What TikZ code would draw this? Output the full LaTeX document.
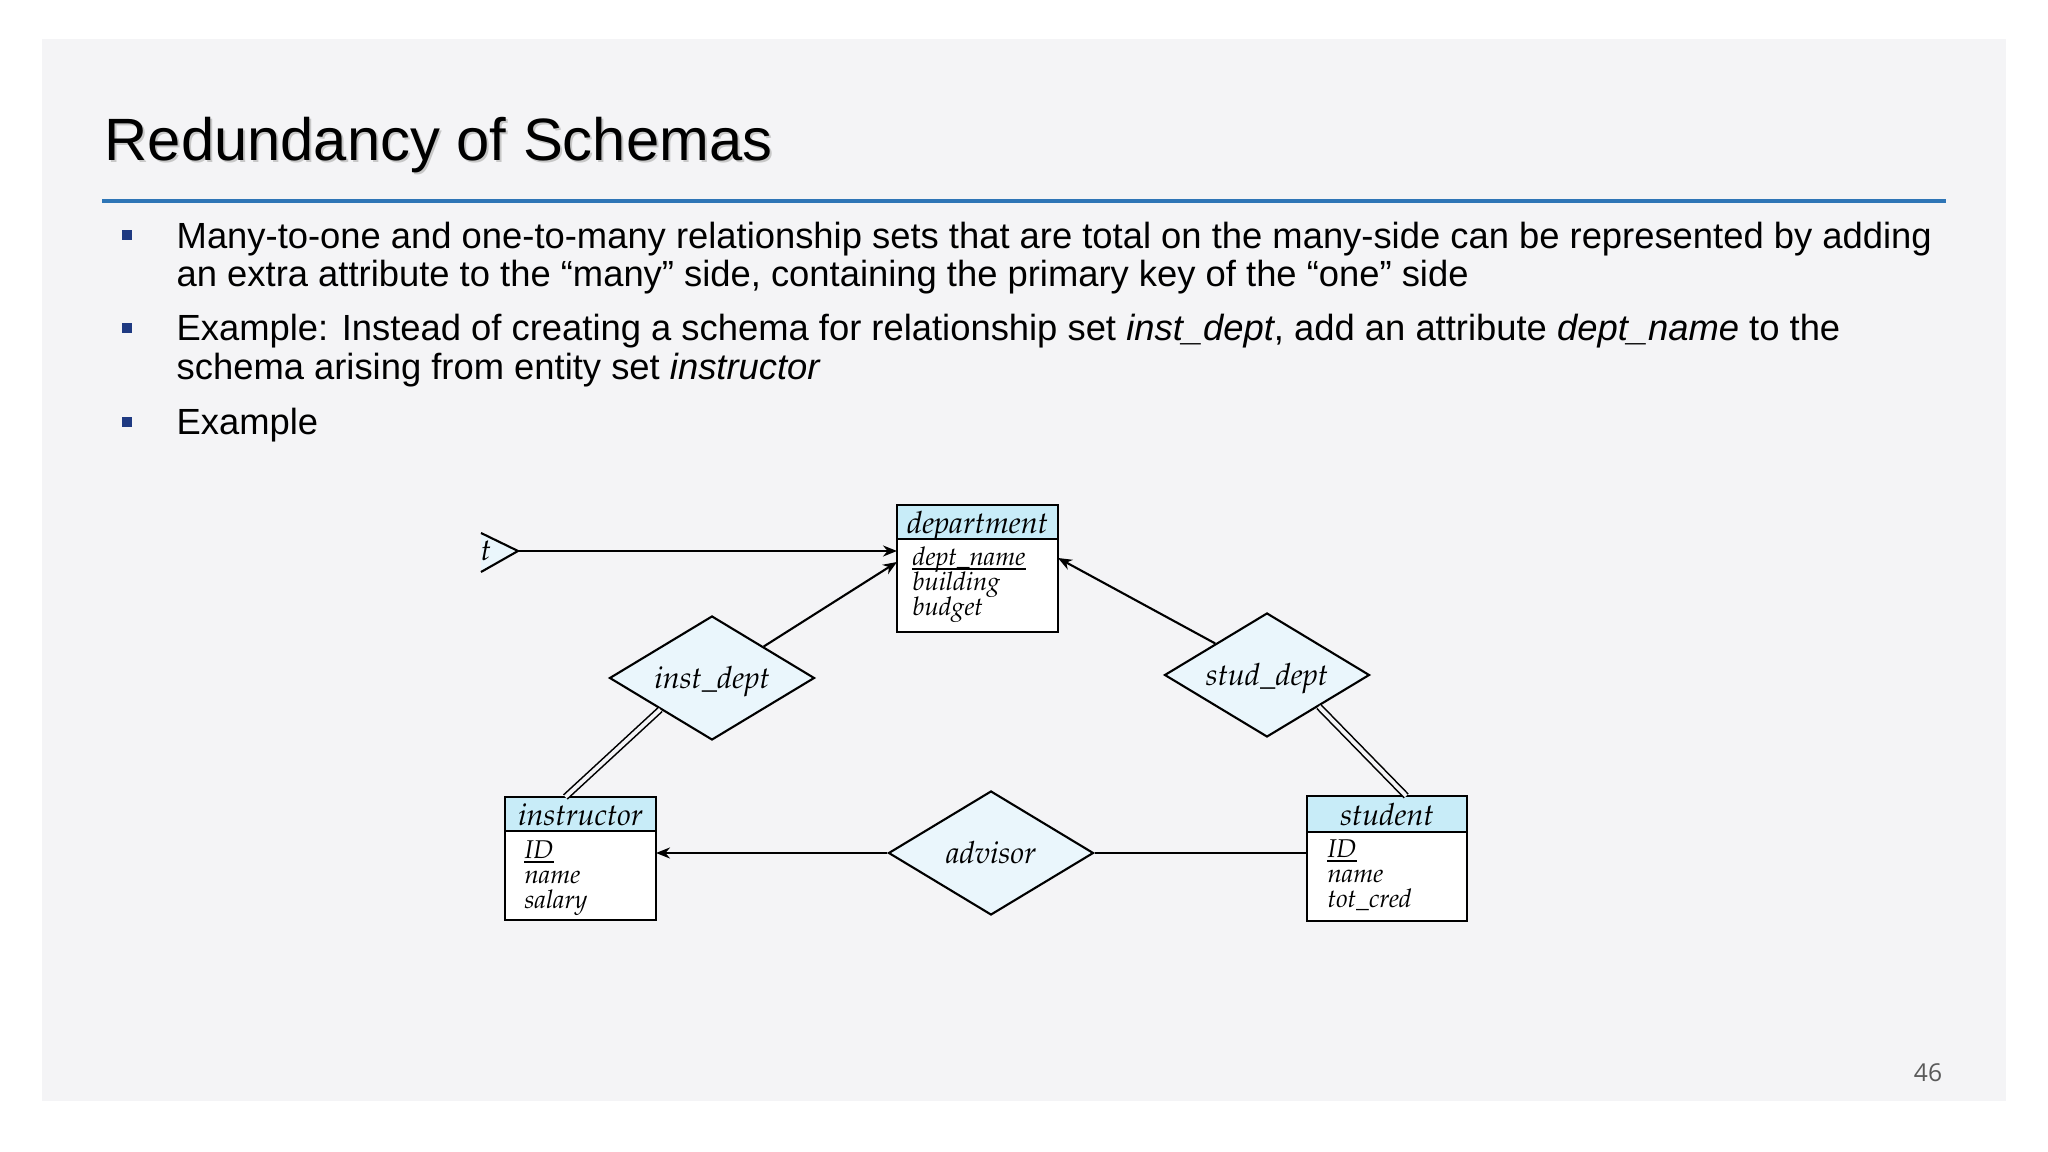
\documentclass[tikz,border=0pt]{standalone}
\usepackage[T1]{fontenc}
\usepackage{fontspec}
\setmainfont{Liberation Sans}
\newfontfamily\numfont{Open Sans}
\usepackage{tikz}
\usetikzlibrary{shapes.geometric,positioning,calc,arrows.meta}

\definecolor{slidebg}{HTML}{F4F4F6}
\definecolor{rulebl}{HTML}{2E75B6}
\definecolor{bulletbl}{HTML}{1F3A82}
\definecolor{entfill}{HTML}{C8ECF8}
\definecolor{relfill}{HTML}{EAF6FC}
\definecolor{pgnum}{HTML}{595959}

\newcommand{\erfont}{\fontencoding{T1}\fontfamily{ppl}\fontshape{it}\selectfont}

\tikzset{
  enthead/.style={shape=rectangle, draw, line width=0.7pt, outer sep=0pt, fill=entfill, inner sep=0pt, minimum height=3.4mm, text height=2.7mm, text depth=0.3mm, font=\erfont\fontsize{8.7}{9}\selectfont},
  entbody/.style={shape=rectangle, draw, line width=0.7pt, outer sep=0pt, fill=white, inner sep=0pt, minimum height=8.9mm},
  attr/.style={inner sep=0pt, anchor=base west, font=\erfont\fontsize{7.3}{7.4}\selectfont},
  keyline/.style={line width=0.4pt},
  rel/.style={shape=diamond, aspect=1.65, draw, line width=0.6pt, fill=relfill, inner sep=0pt, minimum width=20.5mm, minimum height=12.4mm, text height=2.6mm, text depth=0.5mm, font=\erfont\fontsize{8.7}{9}\selectfont},
  conn/.style={line width=0.6pt},
  arr/.style={conn, -{Stealth[length=1.4mm, width=1.1mm]}},
  dbl/.style={line width=0.45pt, double=slidebg, double distance=1.1pt},
  bodytext/.style={anchor=base west, inner sep=0pt, font=\fontsize{10.35}{12}\selectfont},
  bulletsq/.style={shape=rectangle, fill=bulletbl, inner sep=0pt, minimum size=1.05mm}
}

\begin{document}
\begin{tikzpicture}[x=0.1mm, y=-0.1mm]
\useasboundingbox (0,0) rectangle (2048,1152);
\fill[white] (0,0) rectangle (2048,1152);
\fill[slidebg] (42,39) rectangle (2006,1101);

\node[name=titleshadow, anchor=base west, inner sep=0pt, text=black!22, font=\fontsize{17}{20}\selectfont] at (106,163) {Redundancy of Schemas};
\node[name=title, anchor=base west, inner sep=0pt, font=\fontsize{17}{20}\selectfont] at (104,161) {Redundancy of Schemas};
\draw[rulebl, line width=1.1pt] (102,201) -- (1946,201);

\node[name=bl1, bulletsq] at (127,235) {};
\node[name=bl2, bulletsq] at (127,328) {};
\node[name=bl3, bulletsq] at (127,422) {};
\node[name=t1a, bodytext] at (176,249) {Many-to-one and one-to-many relationship sets that are total on the many-side can be represented by adding};
\node[name=t1b, bodytext] at (176,287) {an extra attribute to the “many” side, containing the primary key of the “one” side};
\node[name=t2a, bodytext] at (176,341) {Example: Instead of creating a schema for relationship set \textit{inst\_dept}, add an attribute \textit{dept\_name} to the};
\node[name=t2b, bodytext] at (176,380) {schema arising from entity set \textit{instructor}};
\node[name=t3a, bodytext] at (176,435) {Example};

\node[name=dhead, enthead, minimum width=16.1mm, anchor=north west] at (897,505) {department};
\node[name=dbody, entbody, minimum width=16.1mm, minimum height=9.3mm, below=0mm of dhead] {};
\node[name=dattr1, attr] at (912,566) {dept\_name};
\node[name=dattr2, attr] at (912,591) {building};
\node[name=dattr3, attr] at (912,616) {budget};
\draw[keyline] ($(dattr1.base west)+(0,3)$) -- ($(dattr1.base east)+(0,3)$);

\node[name=ihead, enthead, minimum width=15.1mm, anchor=north west] at (505,797) {instructor};
\node[name=ibody, entbody, minimum width=15.1mm, below=0mm of ihead] {};
\node[name=iattr1, attr] at (524,859) {ID};
\node[name=iattr2, attr] at (524,884) {name};
\node[name=iattr3, attr] at (524,909) {salary};
\draw[keyline] ($(iattr1.base west)+(0,3)$) -- ($(iattr1.base east)+(0,3)$);

\node[name=shead, enthead, minimum width=16mm, minimum height=3.6mm, anchor=north west] at (1307,796) {student};
\node[name=sbody, entbody, minimum width=16mm, below=0mm of shead] {};
\node[name=sattr1, attr] at (1327,858) {ID};
\node[name=sattr2, attr] at (1327,883) {name};
\node[name=sattr3, attr] at (1327,908) {tot\_cred};
\draw[keyline] ($(sattr1.base west)+(0,3)$) -- ($(sattr1.base east)+(0,3)$);

\node[name=idept, rel] at (712,678) {inst\_dept};
\node[name=sdept, rel] at (1267,675) {stud\_dept};
\node[name=adv, rel] at (991,853) {advisor};

\fill[relfill] (481,533) -- (518,551) -- (481,572) -- cycle;
\draw[conn] (481,533) -- (518,551) -- (481,572);
\node[name=cutlbl, inner sep=0pt, font=\erfont\fontsize{8.7}{9}\selectfont] at (486,551) {t};
\coordinate (cut) at (518,551);

\draw[arr] (cut) -- (cut -| dbody.west);
\draw[arr] (idept.north east) -- ($(dbody.north west)+(0,23)$);
\draw[arr] (sdept.north west) -- ($(dbody.north east)+(0,19)$);
\draw[dbl] (idept.south west) -- ($(ihead.north west)!0.4!(ihead.north east)$);
\draw[dbl] (sdept.south east) -- ($(shead.north west)!0.62!(shead.north east)$);
\draw[arr] (adv.west) -- (adv.west -| ibody.east);
\draw[conn] (adv.east) -- (adv.east -| sbody.west);

\node[name=pagenum, inner sep=0pt, text=pgnum, font=\numfont\fontsize{7}{8}\selectfont] at (1928,1073) {46};
\end{tikzpicture}
\end{document}
